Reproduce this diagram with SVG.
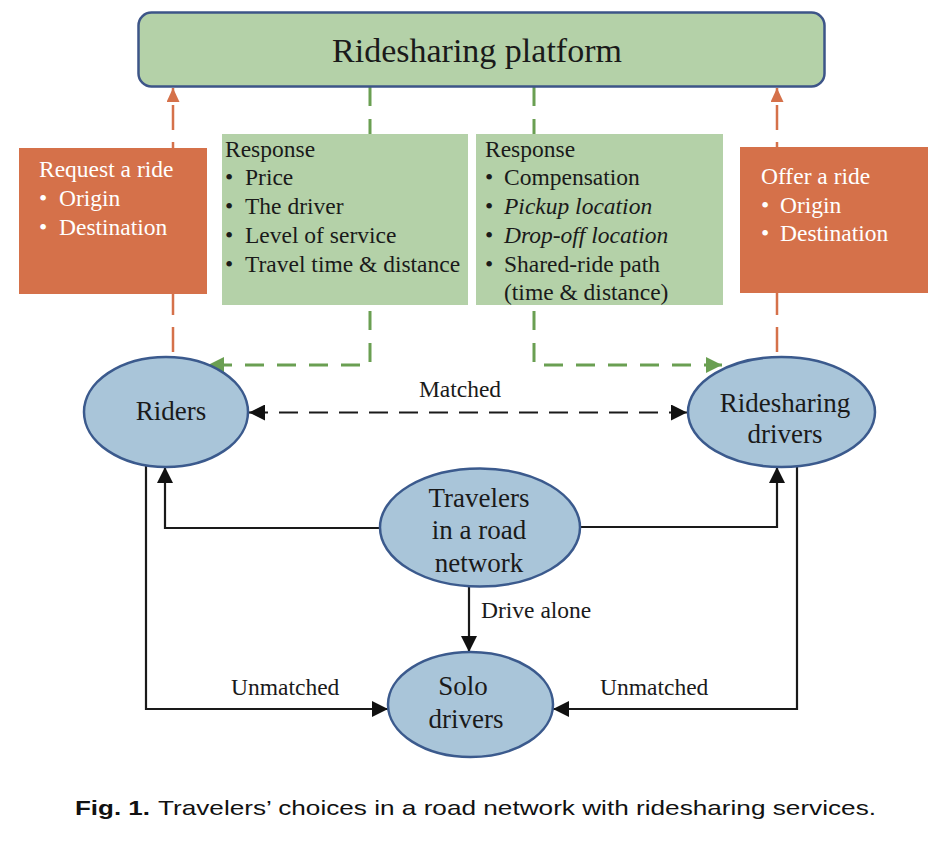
<svg xmlns="http://www.w3.org/2000/svg" width="951" height="853" viewBox="0 0 951 853">
<style>
  .serif{font-family:"Liberation Serif","Times New Roman",serif;fill:#1a1a1a}
  .box{font-size:23.5px}
  .wbox{font-size:23.5px;fill:#ffffff}
  .node{font-size:27px;text-anchor:middle}
  .lbl{font-size:23.5px}
  .ell{fill:#a9c5d9;stroke:#3b5a8d;stroke-width:2.5}
  .gbox{fill:#b4d1a8}
  .obox{fill:#d5714a}
  .blk{fill:none;stroke:#1a1a1a;stroke-width:2.2}
  .grn{fill:none;stroke:#6a9f52;stroke-width:3;stroke-dasharray:19 13}
  .org{fill:none;stroke:#d5714a;stroke-width:2.5;stroke-dasharray:25 12}
  .cap{font-family:"Liberation Sans",Arial,sans-serif;font-size:21px;fill:#111}
</style>
<defs>
  <marker id="ab" viewBox="0 0 16 16" refX="16" refY="8" markerWidth="16" markerHeight="16" markerUnits="userSpaceOnUse" orient="auto-start-reverse">
    <path d="M0,0 L16,8 L0,16 z" fill="#111"/>
  </marker>
  <marker id="ag" viewBox="0 0 16 16" refX="16" refY="8" markerWidth="16" markerHeight="16" markerUnits="userSpaceOnUse" orient="auto">
    <path d="M0,0 L16,8 L0,16 z" fill="#6a9f52"/>
  </marker>
  <marker id="ao" viewBox="0 0 14 13" refX="14" refY="6.5" markerWidth="14" markerHeight="13" markerUnits="userSpaceOnUse" orient="auto">
    <path d="M0,0 L14,6.5 L0,13 z" fill="#d5714a"/>
  </marker>
</defs>

<g id="connectors">
  <path class="org" d="M173,352 V88" marker-end="url(#ao)"/>
  <path class="org" d="M777,352 V88" marker-end="url(#ao)"/>
  <path class="grn" d="M370,87 V365 H208" marker-end="url(#ag)"/>
  <path class="grn" d="M534,87 V365 H722" marker-end="url(#ag)"/>
  <path class="blk" d="M249,412.5 H687" stroke-width="3" stroke-dasharray="19 11" marker-start="url(#ab)" marker-end="url(#ab)"/>
  <path class="blk" d="M146,464 V709 H388" marker-end="url(#ab)"/>
  <path class="blk" d="M797,464 V709 H553" marker-end="url(#ab)"/>
  <path class="blk" d="M380,528 H165 V467" marker-end="url(#ab)"/>
  <path class="blk" d="M580,527 H777 V467" marker-end="url(#ab)"/>
  <path class="blk" d="M469,587 V652" marker-end="url(#ab)"/>
  <text class="serif lbl" x="460" y="397" text-anchor="middle">Matched</text>
  <text class="serif lbl" x="481" y="618">Drive alone</text>
  <text class="serif lbl" x="231" y="695">Unmatched</text>
  <text class="serif lbl" x="600" y="695">Unmatched</text>
</g>

<g id="platform">
  <rect x="138.5" y="12.5" width="686" height="74" rx="13" fill="#b4d1a8" stroke="#3d5588" stroke-width="2.5"/>
  <text class="serif" x="477" y="62" font-size="34" text-anchor="middle">Ridesharing platform</text>
</g>

<g id="request">
  <rect class="obox" x="19" y="148" width="188" height="146"/>
  <text class="serif wbox" x="39" y="177">Request a ride</text>
  <text class="serif wbox" x="39" y="206">• <tspan x="59">Origin</tspan></text>
  <text class="serif wbox" x="39" y="235">• <tspan x="59">Destination</tspan></text>
</g>

<g id="response-rider">
  <rect class="gbox" x="222" y="134" width="246" height="171"/>
  <text class="serif box" x="225" y="157">Response</text>
  <text class="serif box" x="225" y="185">• <tspan x="245">Price</tspan></text>
  <text class="serif box" x="225" y="214">• <tspan x="245">The driver</tspan></text>
  <text class="serif box" x="225" y="243">• <tspan x="245">Level of service</tspan></text>
  <text class="serif box" x="225" y="272">• <tspan x="245">Travel time &amp; distance</tspan></text>
</g>

<g id="response-driver">
  <rect class="gbox" x="476" y="134" width="247" height="171"/>
  <text class="serif box" x="485" y="157">Response</text>
  <text class="serif box" x="485" y="185">• <tspan x="504">Compensation</tspan></text>
  <text class="serif box" x="485" y="214">• <tspan x="504" font-style="italic">Pickup location</tspan></text>
  <text class="serif box" x="485" y="243">• <tspan x="504" font-style="italic">Drop-off location</tspan></text>
  <text class="serif box" x="485" y="272">• <tspan x="504">Shared-ride path</tspan></text>
  <text class="serif box" x="504" y="300">(time &amp; distance)</text>
</g>

<g id="offer">
  <rect class="obox" x="740" y="147" width="188" height="146"/>
  <text class="serif wbox" x="761" y="184">Offer a ride</text>
  <text class="serif wbox" x="761" y="213">• <tspan x="780">Origin</tspan></text>
  <text class="serif wbox" x="761" y="241">• <tspan x="780">Destination</tspan></text>
</g>

<g id="riders">
  <ellipse class="ell" cx="166" cy="412" rx="82" ry="55"/>
  <text class="serif node" x="171" y="420">Riders</text>
</g>

<g id="ridesharing-drivers">
  <ellipse class="ell" cx="781.5" cy="412" rx="93.5" ry="55"/>
  <text class="serif node" x="785" y="412">Ridesharing</text>
  <text class="serif node" x="785" y="443">drivers</text>
</g>

<g id="travelers">
  <ellipse class="ell" cx="480" cy="527.5" rx="100" ry="59"/>
  <text class="serif node" x="479" y="507">Travelers</text>
  <text class="serif node" x="479" y="539">in a road</text>
  <text class="serif node" x="479" y="572">network</text>
</g>

<g id="solo-drivers">
  <ellipse class="ell" cx="470.5" cy="704.5" rx="82.5" ry="52.5"/>
  <text class="serif node" x="463" y="695">Solo</text>
  <text class="serif node" x="466" y="728">drivers</text>
</g>

<g id="caption">
  <text class="cap" x="75" y="815" font-weight="bold" textLength="75" lengthAdjust="spacingAndGlyphs">Fig. 1.</text>
  <text class="cap" x="158" y="815" textLength="718" lengthAdjust="spacingAndGlyphs">Travelers’ choices in a road network with ridesharing services.</text>
</g>
</svg>
